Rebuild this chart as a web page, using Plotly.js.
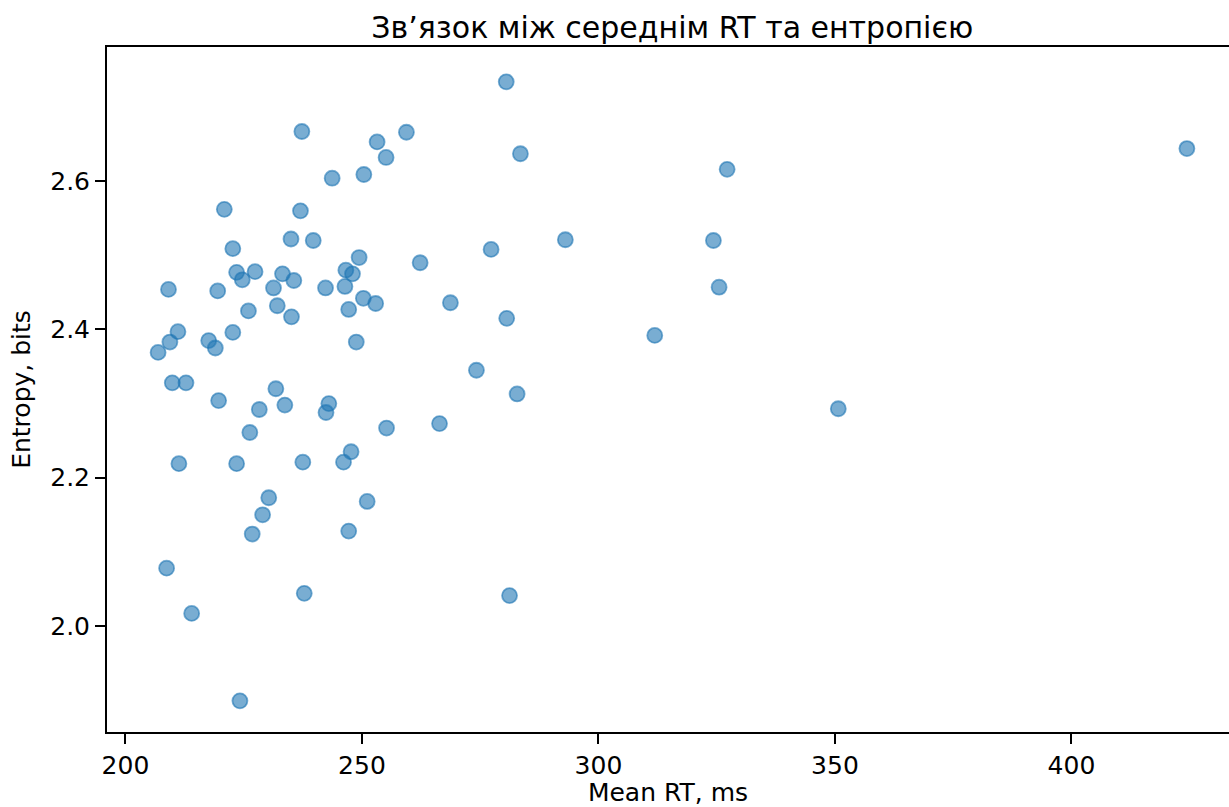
<!DOCTYPE html>
<html>
<head>
<meta charset="utf-8">
<script src="https://cdn.plot.ly/plotly-3.0.1.min.js"></script>
<style>html,body{margin:0;padding:0;background:#fff;}#chart{width:1229px;height:807px;}</style>
</head>
<body>
<div id="chart"></div>
<script>
const meanRT = [
  280.5, 424.4, 327.2, 283.5, 237.3, 259.4, 253.2, 255.1, 250.4, 243.7,
  220.9, 237.0, 222.7, 235.0, 239.7, 293.0, 324.3, 277.3, 262.3, 249.4,
  223.5, 227.4, 224.7, 233.2, 235.6, 246.6, 248.0, 209.1, 219.5, 231.3,
  242.3, 246.4, 325.5, 250.3, 252.9, 268.7, 232.1, 247.2, 226.0, 235.1,
  280.6, 211.1, 222.7, 311.9, 209.4, 217.6, 248.8, 219.0, 206.9, 209.9,
  212.8, 274.2, 231.8, 282.8, 219.7, 228.3, 233.7, 243.0, 242.4, 350.7,
  255.2, 266.4, 226.3, 247.7, 246.1, 237.5, 211.3, 223.5, 230.3, 251.1,
  229.0, 226.8, 247.2, 208.7, 237.8, 281.2, 214.0, 224.2
];
const entropy = [
  2.734, 2.644, 2.616, 2.637, 2.667, 2.666, 2.653, 2.632, 2.609, 2.604,
  2.562, 2.560, 2.509, 2.522, 2.520, 2.521, 2.520, 2.508, 2.490, 2.497,
  2.477, 2.478, 2.467, 2.475, 2.466, 2.480, 2.475, 2.454, 2.452, 2.456,
  2.456, 2.458, 2.457, 2.442, 2.435, 2.436, 2.432, 2.427, 2.425, 2.417,
  2.415, 2.397, 2.396, 2.392, 2.383, 2.385, 2.383, 2.375, 2.369, 2.328,
  2.328, 2.345, 2.320, 2.313, 2.304, 2.292, 2.298, 2.300, 2.288, 2.293,
  2.267, 2.273, 2.261, 2.235, 2.221, 2.221, 2.219, 2.219, 2.173, 2.168,
  2.150, 2.124, 2.128, 2.078, 2.044, 2.041, 2.017, 1.899
];
const xTicks = [200, 250, 300, 350, 400];
const yTicks = [2.0, 2.2, 2.4, 2.6];
const yTickLabels = ["2.0", "2.2", "2.4", "2.6"];

const font = "DejaVu Sans, sans-serif";
const trace = {
  x: meanRT,
  y: entropy,
  type: "scatter",
  mode: "markers",
  marker: {
    size: 15,
    color: "rgba(31,119,180,0.6)",
    line: {color: "rgba(31,119,180,0.6)", width: 1.8}
  },
  hoverinfo: "x+y"
};
const layout = {
  width: 1229,
  height: 807,
  paper_bgcolor: "#fff",
  plot_bgcolor: "#fff",
  showlegend: false,
  margin: {l: 107, r: 0, t: 47, b: 75, pad: 0},
  font: {family: font, color: "#000", size: 25},
  title: {
    text: "Зв’язок між середнім RT та ентропією",
    font: {family: font, size: 30, color: "#000"},
    xref: "container", x: 0.547, xanchor: "center",
    yref: "container", y: 0.966, yanchor: "middle"
  },
  xaxis: {
    range: [196.1, 433.3],
    tickvals: xTicks,
    ticktext: xTicks.map(String),
    ticks: "outside", ticklen: 10, tickwidth: 2, tickcolor: "#000",
    showline: true, linecolor: "#000", linewidth: 2, mirror: true,
    showgrid: false, zeroline: false,
    tickfont: {family: font, size: 25, color: "#000"},
    title: {text: "Mean RT, ms", font: {family: font, size: 25, color: "#000"}, standoff: 8},
    automargin: false
  },
  yaxis: {
    range: [1.857, 2.781],
    tickvals: yTicks,
    ticktext: yTickLabels,
    ticks: "outside", ticklen: 10, tickwidth: 2, tickcolor: "#000",
    showline: true, linecolor: "#000", linewidth: 2, mirror: false,
    showgrid: false, zeroline: false,
    tickfont: {family: font, size: 25, color: "#000"},
    title: {text: "Entropy, bits", font: {family: font, size: 25, color: "#000"}, standoff: 12},
    automargin: false
  }
};
Plotly.newPlot("chart", [trace], layout, {displayModeBar: false, staticPlot: true});
</script>
</body>
</html>
